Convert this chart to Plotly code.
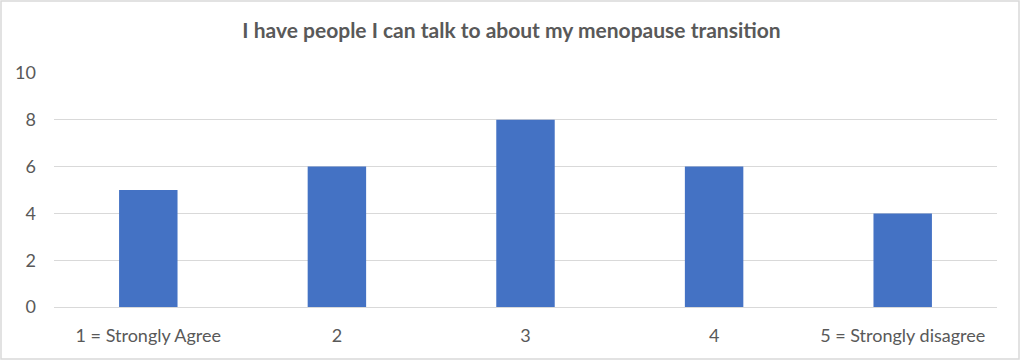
import plotly.graph_objects as go

categories = ["1 = Strongly Agree", "2", "3", "4", "5 = Strongly disagree"]
values = [5, 6, 8, 6, 4]
y_ticks = [0, 2, 4, 6, 8, 10]
title_text = "I have people I can talk to about my menopause transition"

fig = go.Figure(go.Bar(x=categories, y=values, marker_color="#4472C4", marker_line_width=0))

font_fam = "Lato, Open Sans, sans-serif"
fig.update_layout(
    width=1023, height=361,
    margin=dict(l=54, r=26, t=73, b=54),
    paper_bgcolor="white", plot_bgcolor="white",
    bargap=0.69,
    showlegend=False,
    title=dict(text=title_text, x=0.5, xanchor="center", y=1 - 31 / 361, yanchor="middle",
               font=dict(family=font_fam, size=21, color="#595959", weight="bold")),
    font=dict(family=font_fam, size=18, color="#595959"),
    xaxis=dict(showgrid=False, showline=True, linecolor="#D9D9D9", linewidth=1,
               ticks="", ticklabelstandoff=12, tickfont=dict(size=18, color="#595959")),
    yaxis=dict(range=[0, 10], tickvals=y_ticks, showgrid=True, gridcolor="#D9D9D9", gridwidth=1,
               zeroline=False, showline=False, ticks="", ticklabelstandoff=17,
               tickfont=dict(size=18, color="#595959")),
    shapes=[dict(type="rect", xref="paper", yref="paper", layer="below",
                 x0=-53 / 943, x1=(1019 - 54) / 943, y0=-(359 - 307) / 234, y1=(307 - 1) / 234,
                 line=dict(color="#D9D9D9", width=1.5), fillcolor="rgba(0,0,0,0)")],
)

fig.write_html("out.html", config={"displayModeBar": False},
               post_script="document.body.style.margin='0';")
